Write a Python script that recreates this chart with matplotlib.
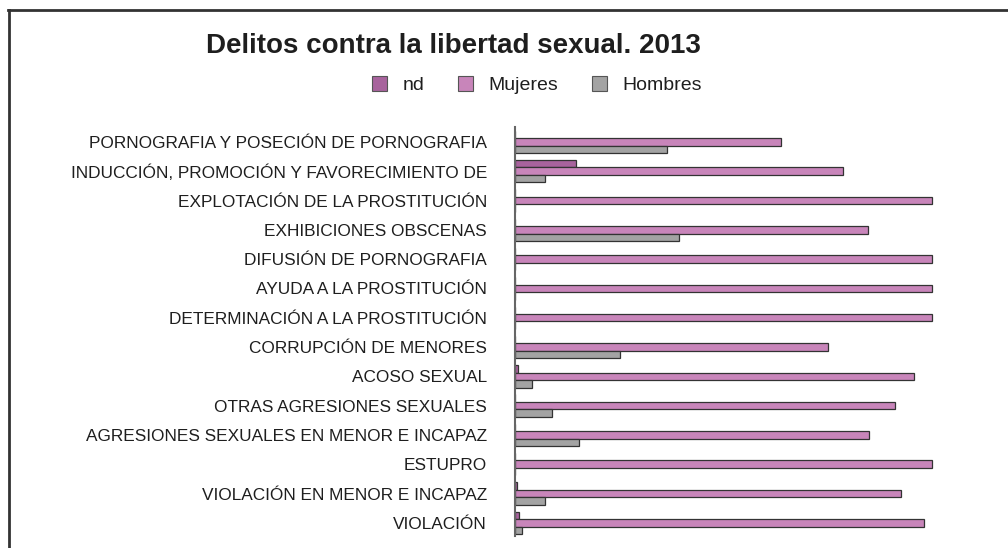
import matplotlib
matplotlib.use("Agg")
import matplotlib.pyplot as plt
import numpy as np
from matplotlib.lines import Line2D
from matplotlib.patches import Patch

categories = [
    "PORNOGRAFIA Y POSECIÓN DE PORNOGRAFIA",
    "INDUCCIÓN, PROMOCIÓN Y FAVORECIMIENTO DE",
    "EXPLOTACIÓN DE LA PROSTITUCIÓN",
    "EXHIBICIONES OBSCENAS",
    "DIFUSIÓN DE PORNOGRAFIA",
    "AYUDA A LA PROSTITUCIÓN",
    "DETERMINACIÓN A LA PROSTITUCIÓN",
    "CORRUPCIÓN DE MENORES",
    "ACOSO SEXUAL",
    "OTRAS AGRESIONES SEXUALES",
    "AGRESIONES SEXUALES EN MENOR E INCAPAZ",
    "ESTUPRO",
    "VIOLACIÓN EN MENOR E INCAPAZ",
    "VIOLACIÓN",
]
nd      = [0.0, 14.7, 0.0, 0.0, 0.0, 0.0, 0.0, 0.0, 0.9, 0.0, 0.0, 0.0, 0.6, 1.0]
mujeres = [63.7, 78.6, 100.0, 84.7, 100.0, 100.0, 100.0, 75.1, 95.5, 91.0, 84.8, 100.0, 92.6, 98.0]
hombres = [36.5, 7.3, 0.0, 39.4, 0.0, 0.0, 0.0, 25.2, 4.1, 9.0, 15.3, 0.0, 7.2, 1.8]
series_names = ["nd", "Mujeres", "Hombres"]

plt.rcParams['font.family'] = ['Liberation Sans', 'DejaVu Sans']

W, H = 1008, 548
fig = plt.figure(figsize=(W / 100, H / 100), dpi=100)
fig.patch.set_facecolor("white")

ax_left, ax_right = 514.7 / W, 932.3 / W
ax_top, ax_bottom = 1 - 126.7 / H, 1 - 536 / H
ax = fig.add_axes([ax_left, ax_bottom, ax_right - ax_left, ax_top - ax_bottom])

colors = ["#a8639d", "#c885ba", "#a3a3a3"]
edge = "#333333"
h = 0.255
y = np.arange(len(categories))
for i, (vals, c) in enumerate(zip([nd, mujeres, hombres], colors)):
    offs = (i - 1) * h
    ax.barh(y + offs, vals, height=h, color=c, edgecolor=edge, linewidth=0.9,
            clip_on=False)

ax.set_xlim(0, 100)
ax.set_ylim(13.45, -0.52)
ax.set_yticks(y)
ax.set_yticklabels(categories, fontsize=12.4, color="#1e1e1e")
ax.tick_params(axis='y', length=0, pad=20)
ax.set_xticks([])
for s in ["top", "right", "bottom"]:
    ax.spines[s].set_visible(False)
ax.spines["left"].set_color("#666666")
ax.spines["left"].set_linewidth(1.5)

fig.text(453 / W, 1 - 46 / H, "Delitos contra la libertad sexual. 2013",
         ha="center", va="center", fontsize=20, fontweight="bold", color="#1e1e1e")

handles = [Patch(facecolor=c, edgecolor="#555555", linewidth=0.8) for c in colors]
fig.legend(handles, series_names, loc="center", bbox_to_anchor=(537 / W, 1 - 85 / H),
           ncol=3, frameon=False, fontsize=14, handlelength=0.8, handleheight=0.8,
           handletextpad=0.8, columnspacing=1.7, labelcolor="#1e1e1e")

fig.add_artist(Line2D([8 / W, 1.0], [1 - 9.5 / H, 1 - 9.5 / H], transform=fig.transFigure,
                      color="#333333", linewidth=2))
fig.add_artist(Line2D([8.5 / W, 8.5 / W], [0, 1 - 9.5 / H], transform=fig.transFigure,
                      color="#333333", linewidth=2))

fig.savefig("out.png", dpi=100)
